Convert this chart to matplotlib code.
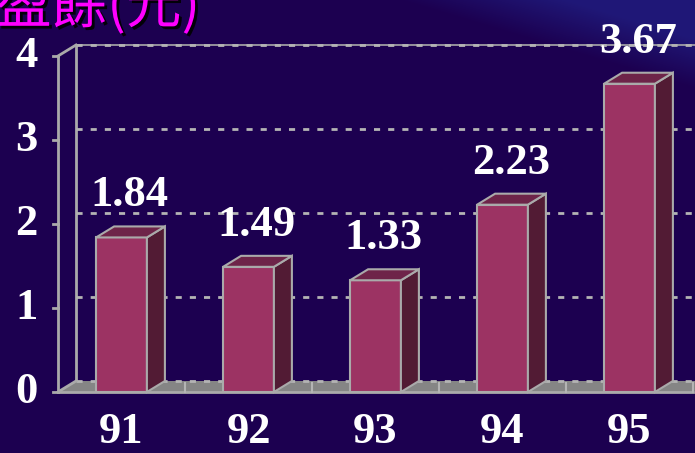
import numpy as np
import matplotlib.pyplot as plt
import matplotlib.patheffects as pe
from matplotlib.patches import Rectangle, Polygon

# Earnings per share by year
years = ['91', '92', '93', '94', '95']
eps = [1.84, 1.49, 1.33, 2.23, 3.67]
y_ticks = [0, 1, 2, 3, 4]
title = '每股盈餘(元)'

bg_color = '#1c0050'
front_c = '#9c3363'
side_c = '#521b34'
top_c = '#6e2449'
edge_c = '#aaaaaa'
floor_c = '#858585'

fig = plt.figure(figsize=(6.95, 4.53), dpi=100)
fig.patch.set_facecolor(bg_color)

# background with a lighter sweep in the top-right corner
bg = fig.add_axes([0, 0, 1, 1])
h, w = 453, 695
yy, xx = np.mgrid[0:h, 0:w]
d = (xx - 400) * 0.3 - yy
t = np.clip(d / 50.0, 0, 1) * 0.85
base = np.array([0x1c, 0x00, 0x50]) / 255
light = np.array([0x20, 0x1c, 0x7e]) / 255
img = base[None, None, :] * (1 - t[..., None]) + light[None, None, :] * t[..., None]
bg.imshow(img, extent=[0, 1, 0, 1], aspect='auto', origin='upper')
bg.axis('off')

ax = fig.add_axes([58 / 695, 61 / 453, 635 / 695, 336 / 453])
ax.set_xlim(-0.5, 4.5)
ax.set_ylim(0, 4)
ax.axis('off')
ax.patch.set_alpha(0)

# depth of the 3d effect in data units
dx = 18 / 127
dy = 11 / 84
x0 = -0.5
x1 = 4.5
xr = 4.7

# back wall
ax.plot([x0 + dx, x0 + dx], [dy, 4 + dy], color=edge_c, lw=2, clip_on=False, zorder=1)
ax.plot([x0 + dx, xr], [4 + dy, 4 + dy], color=edge_c, lw=1.2, clip_on=False, zorder=1)
for v in y_ticks[1:]:
    ax.plot([x0 + dx, xr], [v + dy, v + dy], color='#b4b4b4', lw=2,
            linestyle=(0, (2.2, 2.9)), clip_on=False, zorder=1)

# floor
floor = Polygon([(x0, 0), (x1, 0), (x1 + dx, dy), (x0 + dx, dy)], closed=True,
                facecolor=floor_c, edgecolor='none', clip_on=False, zorder=1)
ax.add_patch(floor)
ax.plot([x0 + dx, xr], [dy, dy], color='#b4b4b4', lw=2,
        linestyle=(0, (2.2, 2.9)), clip_on=False, zorder=1.5)
ax.plot([x0, x1], [0, 0], color=edge_c, lw=2, clip_on=False, zorder=1.5)
ax.plot([x0, x0 + dx], [0, dy], color=edge_c, lw=2, clip_on=False, zorder=1.5)
for i in range(len(years)):
    ax.plot([i + 0.5, i + 0.5], [0, dy * 0.8], color='#b4b4b4', lw=1.5,
            clip_on=False, zorder=1.5)

# front axis
ax.plot([x0, x0], [0, 4], color=edge_c, lw=2, clip_on=False, zorder=1.5)
ax.plot([x0, x0 + dx], [4, 4 + dy], color=edge_c, lw=2, clip_on=False, zorder=1.5)
for v in y_ticks:
    ax.plot([x0 - 0.04, x0], [v, v], color=edge_c, lw=2, clip_on=False, zorder=1.5)
    ax.text(-0.75, v, str(v), ha='center', va='center', color='white',
            fontsize=32, fontweight='bold', family='Liberation Serif')

# bars
bw = 0.4
for i, v in enumerate(eps):
    xl = i - bw / 2
    xrr = i + bw / 2
    ax.add_patch(Rectangle((xl, 0), bw, v, facecolor=front_c, edgecolor=edge_c,
                           lw=1.5, zorder=3, clip_on=False))
    ax.add_patch(Polygon([(xrr, 0), (xrr, v), (xrr + dx, v + dy), (xrr + dx, dy)],
                         closed=True, facecolor=side_c, edgecolor=edge_c, lw=1.5,
                         zorder=3, clip_on=False))
    ax.add_patch(Polygon([(xl, v), (xrr, v), (xrr + dx, v + dy), (xl + dx, v + dy)],
                         closed=True, facecolor=top_c, edgecolor=edge_c, lw=1.5,
                         zorder=3, clip_on=False))
    ax.text(i + 0.065, v + 0.5, f'{v:.2f}', ha='center', va='center', color='white',
            fontsize=32, fontweight='bold', family='Liberation Serif', zorder=4)
    ax.text(i, -0.48, years[i], ha='center', va='center', color='white',
            fontsize=32, fontweight='bold', family='Liberation Serif')

fig.text(200 / 695, 1 - 7 / 453, title, ha='right', va='center', color='#ff00ff',
         fontsize=40, family=['Noto Sans CJK TC', 'DejaVu Sans'],
         path_effects=[pe.SimplePatchShadow(offset=(2, -2), shadow_rgbFace='black', alpha=0.9),
                       pe.Normal()])

fig.savefig('out.png', dpi=100, facecolor=fig.get_facecolor())
